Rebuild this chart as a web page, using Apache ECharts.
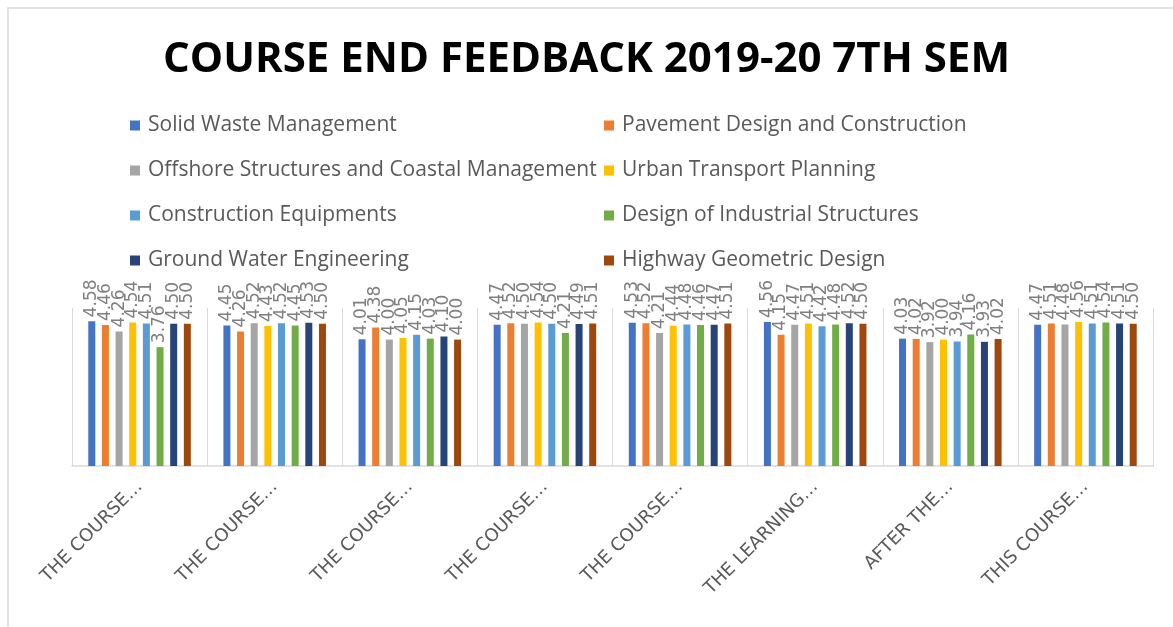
<!DOCTYPE html>
<html>
<head>
<meta charset="utf-8">
<script src="https://cdn.jsdelivr.net/npm/echarts@6/dist/echarts.min.js"></script>
<style>html,body{margin:0;padding:0;background:#fff;}#chart{width:1173px;height:627px;}</style>
</head>
<body>
<div id="chart"></div>
<script>
const categories = ["THE COURSE…","THE COURSE…","THE COURSE…","THE COURSE…","THE COURSE…","THE LEARNING…","AFTER THE…","THIS COURSE…"];
const seriesNames = ["Solid Waste Management","Pavement Design and Construction","Offshore Structures and Coastal Management","Urban Transport Planning","Construction Equipments","Design of Industrial Structures","Ground Water Engineering","Highway Geometric Design"];
const solidWaste        = [4.58,4.45,4.01,4.47,4.53,4.56,4.03,4.47];
const pavementDesign    = [4.46,4.26,4.38,4.52,4.52,4.15,4.02,4.51];
const offshore          = [4.26,4.52,4.00,4.50,4.21,4.47,3.92,4.48];
const urbanTransport    = [4.54,4.43,4.05,4.54,4.44,4.51,4.00,4.56];
const constructionEquip = [4.51,4.52,4.15,4.50,4.48,4.42,3.94,4.51];
const industrialStruct  = [3.76,4.45,4.03,4.21,4.46,4.48,4.16,4.54];
const groundWater       = [4.50,4.53,4.10,4.49,4.47,4.52,3.93,4.51];
const highwayGeometric  = [4.50,4.50,4.00,4.51,4.51,4.50,4.02,4.50];
const allValues = [solidWaste,pavementDesign,offshore,urbanTransport,constructionEquip,industrialStruct,groundWater,highwayGeometric];
const colors = ["#4472C4","#ED7D31","#A5A5A5","#FFC000","#5B9BD5","#70AD47","#264478","#9E480E"];

const chart = echarts.init(document.getElementById('chart'));
const legendText = {color:'#595959', fontSize:21, fontFamily:'Open Sans, Noto Sans, sans-serif', padding:[0,0,0,3]};
chart.setOption({
  animation:false,
  color: colors,
  graphic:[{type:'rect', shape:{x:8,y:8,width:1200,height:700}, style:{fill:'none', stroke:'#d9d9d9', lineWidth:1.5}, silent:true}],
  title:{text:'COURSE END FEEDBACK 2019-20 7TH SEM', left:'center', top:34,
    textStyle:{fontSize:42, fontWeight:'bold', color:'#000', fontFamily:'Open Sans, Liberation Sans, sans-serif'}},
  legend:[
    {orient:'vertical', left:125, top:110, itemWidth:10, itemHeight:10, itemGap:24, icon:'rect',
     data:[seriesNames[0],seriesNames[2],seriesNames[4],seriesNames[6]], textStyle:legendText},
    {orient:'vertical', left:599, top:110, itemWidth:10, itemHeight:10, itemGap:24, icon:'rect',
     data:[seriesNames[1],seriesNames[3],seriesNames[5],seriesNames[7]], textStyle:legendText}
  ],
  grid:{left:72, right:20, top:308, bottom:161, containLabel:false},
  xAxis:{type:'category', data:categories,
    axisLine:{lineStyle:{color:'#d9d9d9', width:1.5}},
    axisTick:{show:false},
    splitLine:{show:true, lineStyle:{color:'#d9d9d9', width:1}},
    axisLabel:{rotate:45, interval:0, color:'#595959', fontSize:18, margin:18,
      fontFamily:'DejaVu Sans, sans-serif'}},
  yAxis:{type:'value', min:0, max:5, show:false, splitLine:{show:false}},
  series: allValues.map((vals,i)=>({
    name: seriesNames[i], type:'bar', data: vals, barWidth:7, barGap:'95%',
    itemStyle:{color: colors[i]},
    label:{show:true, position:'top', rotate:90, align:'left', verticalAlign:'middle', distance:4,
      formatter:p=>p.value.toFixed(2), color:'#7f7f7f', fontSize:17,
      fontFamily:'DejaVu Sans, sans-serif'}
  }))
});
</script>
</body>
</html>
